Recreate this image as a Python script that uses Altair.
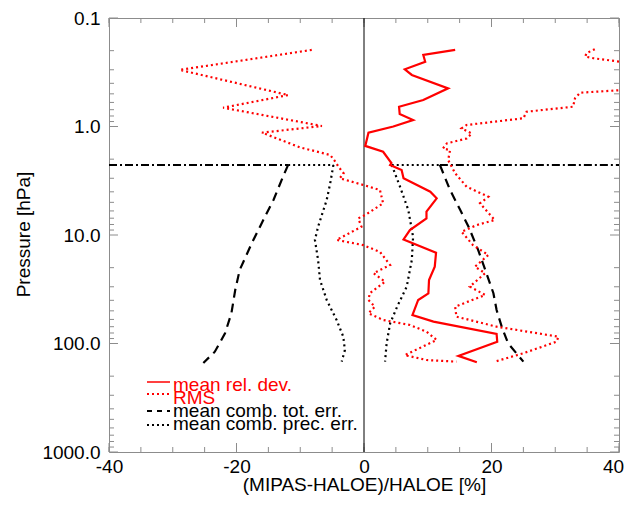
import altair as alt
import pandas as pd

# ---------------- data ----------------
# mean relative deviation (red solid)
mean_x = [14.3, 9.3, 9.6, 6.4, 7.5, 13.2, 9.3, 5.5, 5.6, 7.7, 4.6, 0.7, 0.2, 3.0, 4.3,
          4.1, 5.9, 6.2, 10.4, 11.4, 9.8, 9.8, 7.2, 6.2, 11.3, 11.1, 10.2, 10.1, 8.5, 7.6,
          10.9, 20.8, 20.9, 14.8, 17.7]
mean_p = [0.197, 0.219, 0.253, 0.297, 0.335, 0.445, 0.570, 0.657, 0.768, 0.871, 1.00, 1.14,
          1.51, 1.71, 2.17, 2.26, 2.52, 3.00, 3.99, 4.59, 6.10, 7.02, 9.00, 11.0, 14.6, 19.6,
          26.0, 34.5, 39.7, 54.6, 62.9, 81.7, 96.2, 130, 149]

# RMS envelope, left branch (red dotted)
rms_lo_x = [-8.2, -28.9, -11.9, -22.1, -6.6, -16.0, -10.0, -5.3, -4.5, -4.0, -3.2, -3.8,
            -0.1, 2.5, 3.0, 0.2, -0.9, -0.4, -4.3, -0.1, 2.5, 4.1, 1.5, 3.3, 0.9, 0.7, 1.7,
            0.7, 3.0, 7.2, 9.8, 11.4, 6.4, 9.8, 14.5]
rms_lo_p = [0.197, 0.301, 0.513, 0.671, 0.989, 1.14, 1.56, 1.83, 2.11, 2.35, 2.70, 3.00,
            3.46, 3.85, 5.10, 6.54, 7.02, 8.39, 11.1, 12.4, 14.3, 18.9, 22.5, 26.9, 34.4,
            39.7, 45.8, 52.7, 60.7, 67.5, 77.8, 92.8, 128, 142, 147]

# RMS envelope, right branch (red dotted)
rms_hi_x = [36.2, 34.9, 34.7, 36.0, 40.2, 50.0, 47.0, 40.7, 33.9, 33.1, 32.8, 25.5, 25.0,
            16.1, 15.3, 16.9, 16.1, 13.0, 12.4, 13.5, 13.2, 14.3, 16.1, 19.5, 18.2, 20.5,
            17.7, 15.3, 17.1, 19.5, 17.4, 19.0, 16.6, 19.0, 14.3, 14.5, 20.8, 30.5, 30.2,
            25.0, 20.5]
rms_hi_p = [0.194, 0.211, 0.227, 0.235, 0.253, 0.31, 0.40, 0.461, 0.488, 0.549, 0.657,
            0.731, 0.840, 0.968, 1.04, 1.16, 1.29, 1.43, 1.59, 1.65, 2.04, 2.70, 3.59, 4.44,
            5.10, 7.27, 8.09, 9.33, 12.4, 15.3, 19.6, 22.5, 29.9, 35.7, 45.8, 56.6, 70.0,
            86.5, 96.2, 123, 147]

# mean combined total error (black dashed)
tot_hi_x = [11.9, 13.5, 15.1, 16.4, 17.9, 19.2, 20.3, 20.8, 21.6, 22.6, 25.0]
tot_hi_p = [2.26, 3.85, 5.89, 8.39, 13.7, 22.5, 34.4, 49.1, 70.0, 99.5, 147]
tot_lo_x = [-11.9, -12.7, -14.2, -15.8, -17.6, -19.5, -20.2, -20.8, -21.8, -23.4, -25.2]
tot_lo_p = [2.26, 2.90, 4.75, 7.27, 11.9, 21.0, 32.1, 52.7, 80.5, 119, 151]

# mean combined precision error (black dotted)
prec_lo_x = [-4.8, -5.3, -5.85, -7.2, -7.7, -7.2, -6.9, -5.85, -4.3, -3.25, -3.0, -3.5]
prec_lo_p = [2.26, 3.34, 4.75, 8.39, 11.1, 17.0, 26.0, 39.7, 60.7, 86.5, 115, 147]
prec_hi_x = [4.35, 5.65, 6.95, 7.7, 7.5, 6.7, 5.2, 4.1, 3.55, 3.3]
prec_hi_p = [2.26, 3.59, 5.89, 10.4, 17.0, 29.9, 45.8, 65.2, 99.5, 147]

# horizontal marker level
level_p = 2.26
dashdot_from = [-40, 11.9]
dashdot_to = [-11.9, 40]
dotted_from = [-11.9, 4.35]
dotted_to = [-4.8, 11.9]

# axes
x_label_values = [-40, -20, 0, 20, 40]
x_minor_ticks = list(range(-40, 41, 5))
y_label_values = [0.1, 1, 10, 100, 1000]
y_minor_ticks = [m * d for d in [0.1, 1, 10, 100] for m in range(2, 10)]
x_title = "(MIPAS-HALOE)/HALOE [%]"
y_title = "Pressure [hPa]"

legend_labels = ["mean rel. dev.", "RMS", "mean comb. tot. err.", "mean comb. prec. err."]
legend_colors = ["#ff0000", "#ff0000", "black", "black"]

# ---------------- chart ----------------
W, H = 510, 434
GRAY = "#8c8c8c"
FONT = "Liberation Sans"
FS = 19
RED = "#ff0000"

xscale = alt.Scale(domain=[-40, 40], nice=False, zero=False)
yscale = alt.Scale(type="log", domain=[0.1, 1000], reverse=True, nice=False)

xaxis = alt.Axis(values=x_label_values, labelExpr="toString(datum.value)", ticks=False,
                 domain=False, grid=False, labelFlush=False, labelOverlap=False,
                 labelOffset={"condition": {"test": "datum.value == 40", "value": -6},
                              "value": 0},
                 labelBaseline="alphabetic", labelPadding=20, labelFont=FONT,
                 labelFontSize=FS, labelColor="black", title=x_title, titleFont=FONT,
                 titleFontSize=FS, titleFontWeight="normal", titleColor="black", titleY=38,
                 titleBaseline="alphabetic")
yaxis = alt.Axis(values=y_label_values,
                 labelExpr="datum.value < 1 ? '0.1' : toString(datum.value) + '.0'",
                 ticks=False, domain=False, grid=False, labelFlush=False, labelOverlap=False,
                 labelPadding=9, labelFont=FONT, labelFontSize=FS, labelColor="black",
                 title=y_title, titleFont=FONT, titleFontSize=FS, titleFontWeight="normal",
                 titleColor="black", titleX=-86, titleY=H / 2 - 1, titleAngle=270,
                 titleBaseline="middle", titleAlign="center")


def X():
    return alt.X("x:Q", scale=xscale, axis=xaxis)


def Y():
    return alt.Y("p:Q", scale=yscale, axis=yaxis)


def line(xs, ps, color, dash=None, width=2.0):
    df = pd.DataFrame({"x": xs, "p": ps, "i": list(range(len(xs)))})
    kw = dict(color=color, strokeWidth=width, clip=True)
    if dash:
        kw["strokeDash"] = dash
    return alt.Chart(df).mark_line(**kw).encode(x=X(), y=Y(), order="i:Q")


layers = []

# ticks (inward, on all four sides)
for vals, ln in [(x_minor_ticks, 5), (x_label_values, 9)]:
    d = pd.DataFrame({"x": vals})
    layers.append(alt.Chart(d).mark_rule(color=GRAY, strokeWidth=1).encode(
        x=X(), y=alt.value(H - ln), y2=alt.value(H)))
    layers.append(alt.Chart(d).mark_rule(color=GRAY, strokeWidth=1).encode(
        x=X(), y=alt.value(0), y2=alt.value(ln)))
for vals, ln in [(y_minor_ticks, 5), (y_label_values, 9)]:
    d = pd.DataFrame({"p": vals})
    layers.append(alt.Chart(d).mark_rule(color=GRAY, strokeWidth=1).encode(
        y=Y(), x=alt.value(0), x2=alt.value(ln)))
    layers.append(alt.Chart(d).mark_rule(color=GRAY, strokeWidth=1).encode(
        y=Y(), x=alt.value(W - ln), x2=alt.value(W)))

# zero line
layers.append(alt.Chart(pd.DataFrame({"x": [0]})).mark_rule(color="black", strokeWidth=1)
              .encode(x=X()))

# horizontal level
layers.append(alt.Chart(pd.DataFrame({"x": dashdot_from, "x2": dashdot_to,
                                      "p": [level_p] * 2}))
              .mark_rule(color="black", strokeWidth=2, strokeDash=[8, 3, 2, 3])
              .encode(x=X(), x2="x2:Q", y=Y()))
layers.append(alt.Chart(pd.DataFrame({"x": dotted_from, "x2": dotted_to,
                                      "p": [level_p] * 2}))
              .mark_rule(color="black", strokeWidth=2, strokeDash=[2, 3])
              .encode(x=X(), x2="x2:Q", y=Y()))

# curves
layers.append(line(tot_lo_x, tot_lo_p, "black", [9, 6], 2.2))
layers.append(line(tot_hi_x, tot_hi_p, "black", [9, 6], 2.2))
layers.append(line(prec_lo_x, prec_lo_p, "black", [2, 3.5], 2.2))
layers.append(line(prec_hi_x, prec_hi_p, "black", [2, 3.5], 2.2))
layers.append(line(rms_lo_x, rms_lo_p, RED, [2, 3], 2.2))
layers.append(line(rms_hi_x, rms_hi_p, RED, [2, 3], 2.2))
layers.append(line(mean_x, mean_p, RED, None, 2.2))

# legend (inside plot, lower left)
sym_dash = [None, [2, 3], [5, 5], [2, 3]]
sym_rise = [9, 10, 6, 5]
for k, (lab, col) in enumerate(zip(legend_labels, legend_colors)):
    base = 373 + 13 * k
    layers.append(alt.Chart(pd.DataFrame({"t": [lab]})).mark_text(
        align="left", baseline="alphabetic", font=FONT, fontSize=FS, color=col)
        .encode(x=alt.value(64), y=alt.value(base), text="t:N"))
    kw = dict(color=col, strokeWidth=1.5 if k == 0 else 2)
    if sym_dash[k]:
        kw["strokeDash"] = sym_dash[k]
    layers.append(alt.Chart(pd.DataFrame({"t": [0]})).mark_rule(**kw).encode(
        x=alt.value(38), x2=alt.value(61), y=alt.value(base - sym_rise[k])))

chart = alt.layer(*layers).properties(
    width=W, height=H,
    padding={"left": 101, "top": 10, "right": 5, "bottom": 44},
    autosize=alt.AutoSizeParams(type="none"),
).configure_view(stroke=GRAY, strokeWidth=1)

chart.save("out.html", embed_options={"renderer": "svg", "actions": False})
